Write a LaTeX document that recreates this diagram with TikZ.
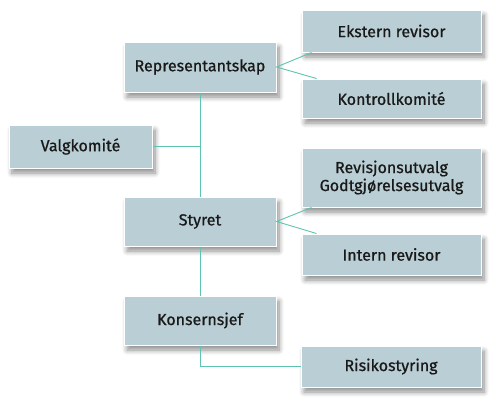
\documentclass[tikz,border=0pt]{standalone}
\usepackage{fontspec}
\setmainfont{Fira Sans}
\newfontfamily\boxfont{Fira Sans}[FakeBold=0.8]
\usetikzlibrary{calc,shadows.blur}
\definecolor{boxfill}{HTML}{BACFD5}
\definecolor{linkcol}{HTML}{5CC4B0}
\tikzset{
  orgbox/.style={draw=white, line width=1pt, fill=boxfill, minimum width=#1, inner sep=2pt,
    align=center, font=\boxfont\fontsize{16}{18}\selectfont, text=black!90,
    blur shadow={shadow xshift=3pt, shadow yshift=-5pt, shadow blur radius=5pt, shadow blur steps=8, shadow opacity=45}},
  link/.style={draw=linkcol, line width=0.9pt}
}
\begin{document}
\begin{tikzpicture}[x=1pt,y=-1pt]
\useasboundingbox (0,0) rectangle (500,407);
\node[orgbox=152pt, minimum height=50pt] (rep) at (200,67) {Representantskap};
\node[orgbox=179pt, minimum height=42pt] (ext) at (391.5,31) {Ekstern revisor};
\node[orgbox=179pt, minimum height=39pt] (kon) at (391.5,98.5) {Kontrollkomité};
\node[orgbox=143pt, minimum height=43pt] (valg) at (80.5,146.5) {Valgkomité};
\node[orgbox=179pt, minimum height=59pt] (rev) at (391.5,177.5) {Revisjonsutvalg\\Godtgjørelsesutvalg};
\node[orgbox=152pt, minimum height=49pt] (styr) at (200,221.5) {Styret};
\node[orgbox=179pt, minimum height=41pt] (int) at (391.5,254.5) {Intern revisor};
\node[orgbox=152pt, minimum height=49pt] (kons) at (200,320.5) {Konsernsjef};
\node[orgbox=180pt, minimum height=41pt] (risk) at (391,366.5) {Risikostyring};
\coordinate (extc) at ($(ext.south west)+(10,0)$);
\coordinate (konc) at ($(kon.north west)+(15,0)$);
\coordinate (revc) at ($(rev.south west)+(10,0)$);
\coordinate (intc) at ($(int.north west)+(15,0)$);
\draw[link] (rep.south) -- (styr.north);
\draw[link] (styr.south) -- (kons.north);
\draw[link] (valg.east) -- (valg.east -| rep.south);
\draw[link] (kons.south) |- (risk.west);
\draw[link] (extc) -- (rep.east) -- (konc);
\draw[link] (revc) -- (styr.east) -- (intc);
\end{tikzpicture}
\end{document}
